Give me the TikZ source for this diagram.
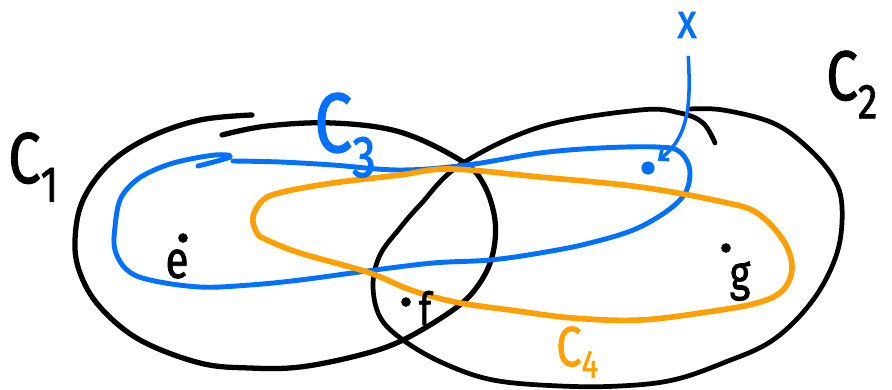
\documentclass[tikz,border=0pt]{standalone}
\usepackage{fontspec}
\usetikzlibrary{arrows.meta}
\setmainfont{Fira Sans}
\newfontfamily\handfont[FakeStretch=0.8,FakeBold=1.5]{Fira Sans}
\definecolor{setblue}{RGB}{0,112,255}
\definecolor{setorange}{RGB}{255,160,0}

\begin{document}
\begin{tikzpicture}[x=0.02cm,y=-0.02cm,
  outline/.style={line width=3pt,line cap=round,line join=round},
  loopblue/.style={outline,draw=setblue,line width=2.8pt},
  looporange/.style={outline,draw=setorange,line width=3.2pt},
  pt/.style={circle,fill,inner sep=0pt,minimum size=5.5pt},
  setname/.style={font=\handfont\fontsize{#1}{#1}\selectfont,anchor=base west,inner sep=0pt},
  elname/.style={font=\handfont\fontsize{#1}{#1}\selectfont,inner sep=0pt},
  arrow/.style={-{Straight Barb[length=4pt,width=7pt]},setblue,line width=2pt},
]
\useasboundingbox (0,0) rectangle (892,389);

% C1 and C2
\draw[outline] plot[smooth,tension=0.6] coordinates {(222,135) (267,126) (333,123) (400,132) (460,160)
  (483,183) (495,220) (492,257) (477,287) (453,310) (403,340) (360,355) (300,367) (250,368)
  (200,363) (140,340) (100,307) (80,273) (75,240) (83,200) (110,163) (150,137) (200,120) (252,115)};
\draw[outline,line width=2.7pt] plot[smooth,tension=0.6] coordinates {(690,109) (723,110) (773,123)
  (807,147) (833,177) (842,207) (837,253) (813,300) (773,340) (723,363) (673,380) (620,386)
  (560,386) (493,380) (443,363) (403,340) (380,317) (373,285) (380,255) (400,228) (420,205)
  (460,165) (540,127) (640,110) (680,113) (703,123) (715,143)};

% C3
\draw[loopblue] plot[smooth,tension=0.6] coordinates {(233,161) (280,162) (333,165) (400,170)
  (467,165) (540,153) (600,148) (657,147) (680,152) (690,173) (680,200) (640,227) (590,243)
  (540,253) (490,260) (433,263) (367,271) (300,280) (250,285) (200,287) (150,280) (127,270)
  (115,250) (115,227) (120,200) (133,183) (150,172) (177,162) (215,155) (230,157) (198,166)};

% C4
\draw[looporange] plot[smooth cycle,tension=0.6] coordinates {(450,169) (540,177) (640,187)
  (723,202) (757,213) (783,240) (792,267) (783,290) (757,303) (707,312) (640,320) (573,318)
  (510,310) (460,303) (427,295) (403,287) (367,272) (300,253) (267,240) (257,233) (253,217)
  (263,200) (283,192) (333,183) (400,175)};

% elements
\node[pt] (e) at (183,238) {};
\node[pt] (f) at (406,302) {};
\node[pt] (g) at (726,248) {};
\node[pt,setblue,minimum size=7.5pt] (xdot) at (648,168) {};
\node[elname=30] (le) at (177,264) {e};
\node[elname=26] (lf) at (425,308) {f};
\node[elname=28] (lg) at (740,281) {g};
\node[elname=28,setblue] (lx) at (687,25) {x};
\draw[arrow,shorten <=10pt,shorten >=3pt] (lx) .. controls (690,95) and (692,135) .. (xdot);

% set names
\node[setname=41] (lc1) at (8,183) {C\textsubscript{1}};
\node[setname=40] (lc2) at (826,100) {C\textsubscript{2}};
\node[setname=48,setblue] (lc3) at (314,152) {C\textsubscript{3}};
\node[setname=32,setorange] (lc4) at (556,366) {C\textsubscript{4}};
\end{tikzpicture}
\end{document}
